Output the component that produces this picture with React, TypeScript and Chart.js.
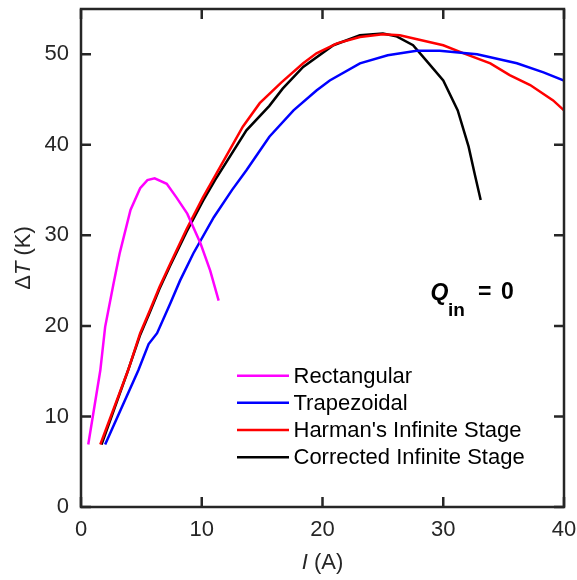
import React, { useEffect, useRef } from 'react';
import { Chart, registerables } from 'chart.js';

Chart.register(...registerables);

// Rectangular (magenta)
const rectI = [0.6, 1.6, 2.0, 2.7, 3.2, 4.1, 4.9, 5.5, 6.1, 7.1, 7.9, 8.8, 9.9, 10.7, 11.4];
const rectT = [6.9, 15.1, 19.9, 24.7, 28.0, 32.8, 35.2, 36.1, 36.3, 35.7, 34.2, 32.4, 29.1, 26.1, 22.8];

// Trapezoidal (blue)
const trapI = [2.0, 4.75, 5.6, 6.3, 7.4, 8.2, 9.3, 11.0, 12.5, 13.7, 15.6, 17.6, 19.5, 20.6, 23.1, 25.4, 27.8, 29.7, 32.8, 36.1, 38.3, 40.0];
const trapT = [6.9, 15.1, 18.0, 19.2, 22.5, 25.0, 28.0, 32.0, 35.0, 37.2, 40.9, 43.8, 46.0, 47.1, 49.0, 49.9, 50.4, 50.4, 50.0, 49.0, 48.0, 47.1];

// Harman's Infinite Stage (red)
const harmI = [1.6, 3.9, 4.9, 5.7, 6.5, 7.4, 8.75, 10.1, 11.2, 13.4, 14.8, 16.6, 18.4, 19.5, 21.2, 23.1, 25.0, 26.4, 30.0, 31.7, 33.9, 35.5, 37.2, 39.1, 40.0];
const harmT = [6.9, 15.1, 19.2, 21.7, 24.3, 26.9, 30.7, 34.2, 36.8, 42.0, 44.6, 46.9, 49.0, 50.1, 51.2, 51.9, 52.2, 52.1, 51.0, 50.1, 49.0, 47.7, 46.6, 44.9, 43.8];

// Corrected Infinite Stage (black)
const corrI = [1.7, 3.9, 4.9, 5.7, 6.5, 7.4, 8.75, 10.1, 11.1, 13.7, 15.6, 16.7, 18.4, 20.9, 23.1, 25.0, 26.1, 27.5, 28.6, 30.0, 31.2, 32.1, 32.6, 33.1];
const corrT = [6.9, 15.1, 19.0, 21.5, 24.1, 26.7, 30.4, 33.8, 36.1, 41.6, 44.3, 46.2, 48.6, 51.0, 52.1, 52.3, 52.0, 51.0, 49.3, 47.1, 43.8, 39.8, 36.8, 33.9];

const seriesLabels = ['Rectangular', 'Trapezoidal', "Harman's Infinite Stage", 'Corrected Infinite Stage'];
const seriesColors = ['#ff00ff', '#0000ff', '#ff0000', '#000000'];

const xTicks = [0, 10, 20, 30, 40];
const yTicks = [0, 10, 20, 30, 40, 50];

const FONT = '"Liberation Sans", Arial, Helvetica, sans-serif';
const AXIS = '#262626';

const toPts = (xs: number[], ys: number[]) => xs.map((x, i) => ({ x, y: ys[i] }));

const decorPlugin = {
  id: 'decor',
  afterDraw(chart: any) {
    const { ctx, chartArea: a, scales } = chart;
    const xs = scales.x;
    const ys = scales.y;
    ctx.save();
    // frame
    ctx.strokeStyle = AXIS;
    ctx.lineWidth = 2.5;
    ctx.strokeRect(a.left, a.top, a.right - a.left, a.bottom - a.top);
    // inward ticks on all four sides
    const tl = 10;
    ctx.beginPath();
    xTicks.forEach((v) => {
      const px = xs.getPixelForValue(v);
      ctx.moveTo(px, a.bottom);
      ctx.lineTo(px, a.bottom - tl);
      ctx.moveTo(px, a.top);
      ctx.lineTo(px, a.top + tl);
    });
    yTicks.forEach((v) => {
      const py = ys.getPixelForValue(v);
      ctx.moveTo(a.left, py);
      ctx.lineTo(a.left + tl, py);
      ctx.moveTo(a.right, py);
      ctx.lineTo(a.right - tl, py);
    });
    ctx.stroke();

    // axis titles
    ctx.fillStyle = AXIS;
    ctx.textBaseline = 'alphabetic';
    ctx.textAlign = 'left';
    const normal = `22px ${FONT}`;
    const italic = `italic 22px ${FONT}`;
    const drawParts = (parts: [string, string][], cx: number) => {
      let w = 0;
      parts.forEach(([t, f]) => { ctx.font = f; w += ctx.measureText(t).width; });
      let x = cx - w / 2;
      parts.forEach(([t, f]) => { ctx.font = f; ctx.fillText(t, x, 0); x += ctx.measureText(t).width; });
    };
    // x title
    ctx.save();
    ctx.translate(0, 568.5);
    drawParts([['I', italic], [' (A)', normal]], (a.left + a.right) / 2);
    ctx.restore();
    // y title
    ctx.save();
    ctx.translate(30, (a.top + a.bottom) / 2);
    ctx.rotate(-Math.PI / 2);
    drawParts([['\u0394', normal], ['T', italic], [' (K)', normal]], 0);
    ctx.restore();

    // legend
    const rowY = [375.7, 402.8, 430, 457.2];
    chart.data.datasets.forEach((ds: any, i: number) => {
      const y = rowY[i];
      ctx.strokeStyle = ds.borderColor;
      ctx.lineWidth = 2.5;
      ctx.beginPath();
      ctx.moveTo(237, y);
      ctx.lineTo(289, y);
      ctx.stroke();
      ctx.fillStyle = '#000';
      ctx.font = normal;
      ctx.textBaseline = 'middle';
      ctx.fillText(ds.label, 293.5, y + 1);
    });

    // Q_in = 0 annotation
    ctx.fillStyle = '#000';
    ctx.textBaseline = 'alphabetic';
    ctx.font = `italic bold 23px ${FONT}`;
    ctx.fillText('Q', 430.5, 300);
    ctx.font = `bold 19px ${FONT}`;
    ctx.fillText('in', 448, 316);
    ctx.font = `bold 23px ${FONT}`;
    ctx.fillText('=', 478, 299);
    ctx.fillText('0', 501, 299);

    ctx.restore();
  },
};

export default function App() {
  const ref = useRef<HTMLCanvasElement>(null);
  useEffect(() => {
    const seriesI = [rectI, trapI, harmI, corrI];
    const seriesT = [rectT, trapT, harmT, corrT];
    const chart = new Chart(ref.current as HTMLCanvasElement, {
      type: 'line',
      data: {
        datasets: seriesLabels.map((label, i) => ({
          label,
          data: toPts(seriesI[i], seriesT[i]),
          borderColor: seriesColors[i],
          backgroundColor: seriesColors[i],
          borderWidth: 2.5,
          pointRadius: 0,
          tension: 0,
          fill: false,
        })),
      },
      options: {
        responsive: false,
        animation: false,
        devicePixelRatio: 1,
        layout: { padding: { left: 0, top: 9, right: 13, bottom: 0 } },
        plugins: { legend: { display: false }, tooltip: { enabled: false } },
        scales: {
          x: {
            type: 'linear',
            min: 0,
            max: 40,
            afterBuildTicks: (s: any) => { s.ticks = xTicks.map((v) => ({ value: v })); },
            afterFit: (s: any) => { s.height = 73; s.paddingLeft = 0; s.paddingRight = 0; },
            ticks: { font: { family: FONT, size: 22 }, color: AXIS, padding: 10, maxRotation: 0, autoSkip: false },
            grid: { display: false, drawTicks: false },
            border: { display: false },
          },
          y: {
            type: 'linear',
            min: 0,
            max: 55,
            afterBuildTicks: (s: any) => { s.ticks = yTicks.map((v) => ({ value: v })); },
            afterFit: (s: any) => { s.width = 81; s.paddingTop = 0; s.paddingBottom = 0; },
            ticks: { font: { family: FONT, size: 22 }, color: AXIS, padding: 12, autoSkip: false },
            grid: { display: false, drawTicks: false },
            border: { display: false },
          },
        },
      } as any,
      plugins: [decorPlugin],
    });
    return () => chart.destroy();
  }, []);
  return (
    <div style={{ position: 'absolute', left: 0, top: 0, width: 577, height: 580, background: '#fff' }}>
      <canvas ref={ref} width={577} height={580} style={{ display: 'block' }} />
    </div>
  );
}
